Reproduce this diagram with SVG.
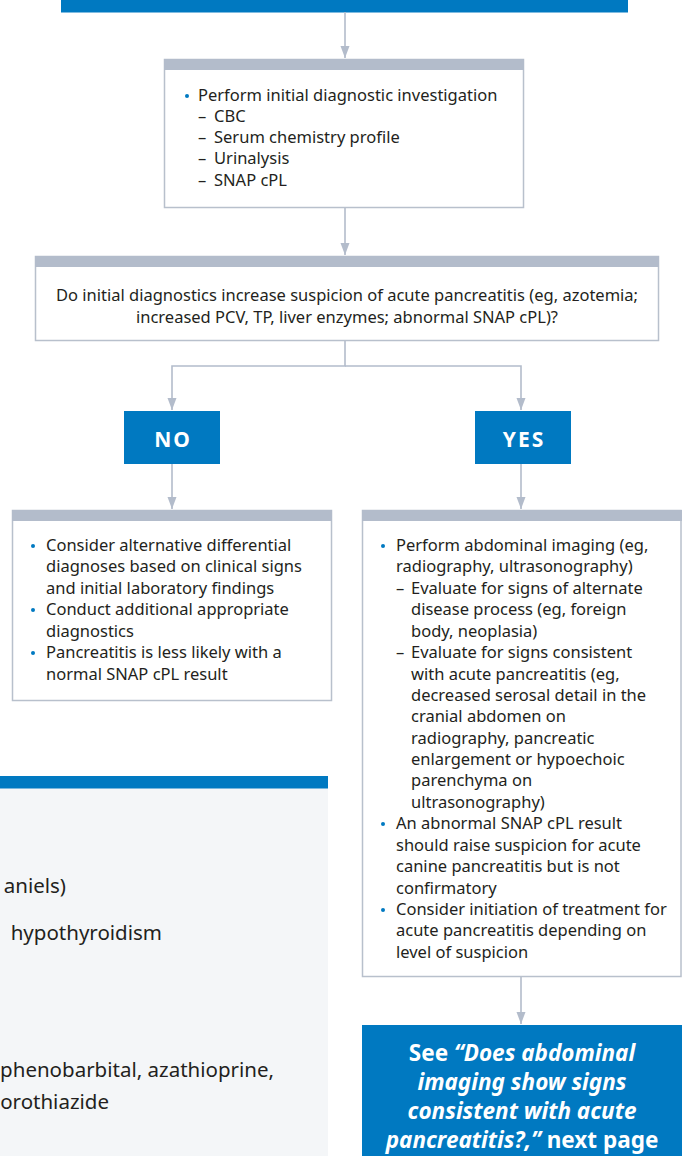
<svg xmlns="http://www.w3.org/2000/svg" width="682" height="1156" viewBox="0 0 682 1156">
<defs>
<style>
.t{font-family:"Noto Sans","Open Sans","Liberation Sans",sans-serif;font-size:16.5px;fill:#231f20}
.p{font-size:20.5px}
.c{text-anchor:middle}
.e{text-anchor:end}
.box{fill:#fff;stroke:#b8c0cc;stroke-width:1.5}
.hdr{fill:#b3bccb}
.blue{fill:#0079c1}
.bul{fill:#0079c1}
.con{fill:none;stroke:#b3bccb;stroke-width:1.6}
.lab{font-family:"Noto Sans","Liberation Sans",sans-serif;font-weight:bold;font-size:21px;fill:#fff;text-anchor:middle;letter-spacing:2px}
.see{font-family:"Noto Sans","Liberation Sans",sans-serif;font-weight:bold;font-size:22.5px;fill:#fff;text-anchor:middle}
</style>
<marker id="arr" markerUnits="userSpaceOnUse" markerWidth="12" markerHeight="16" viewBox="0 0 16 12" refX="16" refY="6" orient="auto">
<path d="M0,0 L16,6 L0,12 Z" fill="#b3bccb"/>
</marker>
</defs>

<g id="top-bar"><rect class="blue" x="61" y="0" width="567" height="12.5"/></g>

<g id="connectors">
<path class="con" d="M345,12 V58" marker-end="url(#arr)"/>
<path class="con" d="M345,208 V255" marker-end="url(#arr)"/>
<path class="con" d="M345,341 V366 H172 V410" marker-end="url(#arr)"/>
<path class="con" d="M345,366 H521 V410" marker-end="url(#arr)"/>
<path class="con" d="M172,464 V509" marker-end="url(#arr)"/>
<path class="con" d="M521,464 V509" marker-end="url(#arr)"/>
<path class="con" d="M521,977 V1024" marker-end="url(#arr)"/>
</g>

<g id="initial-investigation">
<rect class="box" x="164.5" y="59.5" width="359" height="148"/>
<rect class="hdr" x="164" y="59" width="360" height="11"/>
<circle class="bul" cx="187" cy="96" r="2"/>
<text class="t" x="198" y="101">Perform initial diagnostic investigation</text>
<text class="t" x="198" y="122">–</text><text class="t" x="214" y="122">CBC</text>
<text class="t" x="198" y="143">–</text><text class="t" x="214" y="143">Serum chemistry profile</text>
<text class="t" x="198" y="164">–</text><text class="t" x="214" y="164">Urinalysis</text>
<text class="t" x="198" y="186">–</text><text class="t" x="214" y="186">SNAP cPL</text>
</g>

<g id="question">
<rect class="box" x="35.5" y="256.5" width="623" height="84"/>
<rect class="hdr" x="35" y="256" width="624" height="11"/>
<text class="t c" x="347" y="301">Do initial diagnostics increase suspicion of acute pancreatitis (eg, azotemia;</text>
<text class="t c" x="347" y="323">increased PCV, TP, liver enzymes; abnormal SNAP cPL)?</text>
</g>

<g id="no">
<rect class="blue" x="124" y="411" width="96" height="53"/>
<text class="lab" x="173" y="447">NO</text>
</g>

<g id="yes">
<rect class="blue" x="475" y="411" width="96" height="53"/>
<text class="lab" x="524" y="447">YES</text>
</g>

<g id="no-actions">
<rect class="box" x="12.5" y="510.5" width="319" height="190"/>
<rect class="hdr" x="12" y="510" width="320" height="11"/>
<circle class="bul" cx="33" cy="546" r="2"/>
<text class="t" x="46" y="551">Consider alternative differential</text>
<text class="t" x="46" y="572">diagnoses based on clinical signs</text>
<text class="t" x="46" y="594">and initial laboratory findings</text>
<circle class="bul" cx="33" cy="610" r="2"/>
<text class="t" x="46" y="615">Conduct additional appropriate</text>
<text class="t" x="46" y="637">diagnostics</text>
<circle class="bul" cx="33" cy="653" r="2"/>
<text class="t" x="46" y="658">Pancreatitis is less likely with a</text>
<text class="t" x="46" y="680">normal SNAP cPL result</text>
</g>

<g id="yes-actions">
<rect class="box" x="362.5" y="510.5" width="318.5" height="466"/>
<rect class="hdr" x="362" y="510" width="320" height="11"/>
<circle class="bul" cx="383" cy="546" r="2"/>
<text class="t" x="396" y="551">Perform abdominal imaging (eg,</text>
<text class="t" x="396" y="572">radiography, ultrasonography)</text>
<text class="t" x="396" y="594">–</text><text class="t" x="411" y="594">Evaluate for signs of alternate</text>
<text class="t" x="411" y="615">disease process (eg, foreign</text>
<text class="t" x="411" y="637">body, neoplasia)</text>
<text class="t" x="396" y="658">–</text><text class="t" x="411" y="658">Evaluate for signs consistent</text>
<text class="t" x="411" y="680">with acute pancreatitis (eg,</text>
<text class="t" x="411" y="701">decreased serosal detail in the</text>
<text class="t" x="411" y="722">cranial abdomen on</text>
<text class="t" x="411" y="744">radiography, pancreatic</text>
<text class="t" x="411" y="765">enlargement or hypoechoic</text>
<text class="t" x="411" y="786">parenchyma on</text>
<text class="t" x="411" y="808">ultrasonography)</text>
<circle class="bul" cx="383" cy="824" r="2"/>
<text class="t" x="396" y="829">An abnormal SNAP cPL result</text>
<text class="t" x="396" y="851">should raise suspicion for acute</text>
<text class="t" x="396" y="872">canine pancreatitis but is not</text>
<text class="t" x="396" y="894">confirmatory</text>
<circle class="bul" cx="383" cy="910" r="2"/>
<text class="t" x="396" y="915">Consider initiation of treatment for</text>
<text class="t" x="396" y="936">acute pancreatitis depending on</text>
<text class="t" x="396" y="958">level of suspicion</text>
</g>

<g id="next-page">
<rect class="blue" x="362" y="1025" width="320" height="131"/>
<text class="see" x="522" y="1061">See <tspan font-style="italic">“Does abdominal</tspan></text>
<text class="see" x="522" y="1090" font-style="italic">imaging show signs</text>
<text class="see" x="522" y="1119" font-style="italic">consistent with acute</text>
<text class="see" x="522" y="1148"><tspan font-style="italic">pancreatitis?,”</tspan> next page</text>
</g>

<g id="risk-panel">
<rect x="0" y="788" width="328" height="368" fill="#f4f6f8"/>
<rect class="blue" x="0" y="776" width="328" height="12.5"/>
<text class="t p e" x="66" y="893">aniels)</text>
<text class="t p e" x="162" y="940">hypothyroidism</text>
<text class="t p e" x="274" y="1077">phenobarbital, azathioprine,</text>
<text class="t p e" x="109" y="1109">orothiazide</text>
</g>
</svg>
